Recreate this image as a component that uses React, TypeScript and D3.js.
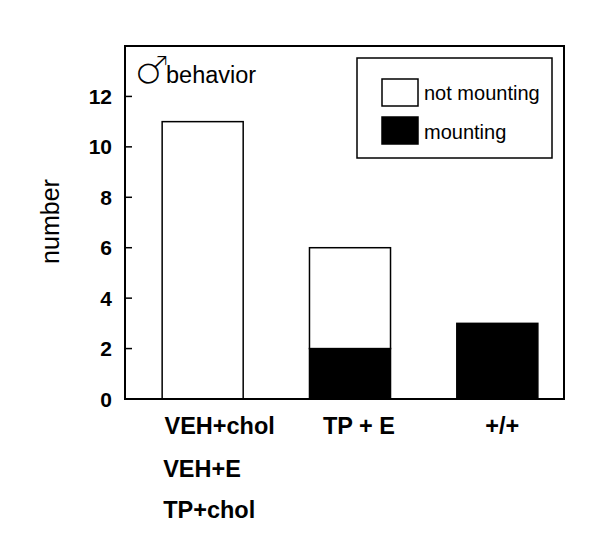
import React from "react";
import * as d3 from "d3";

const categories = ["VEH+chol", "TP + E", "+/+"];
const notMounting = [11, 4, 0];
const mounting = [0, 2, 3];
const yTicks = [0, 2, 4, 6, 8, 10, 12];
const extraLabels = ["VEH+E", "TP+chol"];
const labelDx = [17, 9, 5];

const W = 600, H = 547;
const frame = { left: 125, right: 564, top: 46, bottom: 399 };

export default function App() {
  const y = d3.scaleLinear().domain([0, 14]).range([frame.bottom, frame.top]);
  const x = d3.scaleBand<string>().domain(categories).range([129, 571]).paddingInner(0.45).paddingOuter(0.225);
  const stacked = d3.stack<any>().keys(["mounting", "not"])(
    categories.map((c, i) => ({ cat: c, mounting: mounting[i], not: notMounting[i] }))
  );
  const font = "Liberation Sans, Arial, sans-serif";
  return (
    <svg width={W} height={H} style={{ position: "absolute", left: 0, top: 0, background: "#fff" }} fontFamily={font}>
      <rect x={0} y={0} width={W} height={H} fill="#fff" />
      {stacked.map((layer) =>
        layer.map((d, i) => {
          const h = y(d[0]) - y(d[1]);
          if (h <= 0) return null;
          return (
            <rect key={layer.key + i} x={x(categories[i])} y={y(d[1])} width={x.bandwidth()} height={h}
              fill={layer.key === "mounting" ? "#000" : "#fff"} stroke="#000" strokeWidth={1.5} />
          );
        })
      )}
      <rect x={frame.left} y={frame.top} width={frame.right - frame.left} height={frame.bottom - frame.top}
        fill="none" stroke="#000" strokeWidth={2} />
      {yTicks.map((t) => (
        <g key={t}>
          <line x1={frame.left} x2={frame.left + 7} y1={y(t)} y2={y(t)} stroke="#000" strokeWidth={1.5} />
          <text x={112} y={y(t)} dy="0.36em" textAnchor="end" fontSize={21} fontWeight="bold">{t}</text>
        </g>
      ))}
      <text transform={`translate(59,${(frame.top + frame.bottom) / 2 - 1}) rotate(-90)`} textAnchor="middle" fontSize={25}>number</text>
      {categories.map((c, i) => (
        <text key={c} x={(x(c) as number) + x.bandwidth() / 2 + labelDx[i]} y={434} textAnchor="middle" fontSize={23.5} fontWeight="bold">{c}</text>
      ))}
      {extraLabels.map((c, i) => (
        <text key={c} x={(x(categories[0]) as number) + 1} y={477 + i * 41} textAnchor="start" fontSize={23.5} fontWeight="bold">{c}</text>
      ))}
      <text x={134} y={84} fontSize={40} fontFamily="DejaVu Sans" stroke="#fff" strokeWidth={1.6}>♂</text>
      <text x={166} y={83} fontSize={23.5}>behavior</text>
      <rect x={357} y={58} width={195} height={100} fill="#fff" stroke="#000" strokeWidth={1.5} />
      <rect x={382} y={79} width={36} height={27} fill="#fff" stroke="#000" strokeWidth={1.5} />
      <rect x={382} y={117} width={36} height={27} fill="#000" stroke="#000" strokeWidth={1.5} />
      <text x={424} y={100} fontSize={20}>not mounting</text>
      <text x={424} y={139} fontSize={20}>mounting</text>
    </svg>
  );
}
